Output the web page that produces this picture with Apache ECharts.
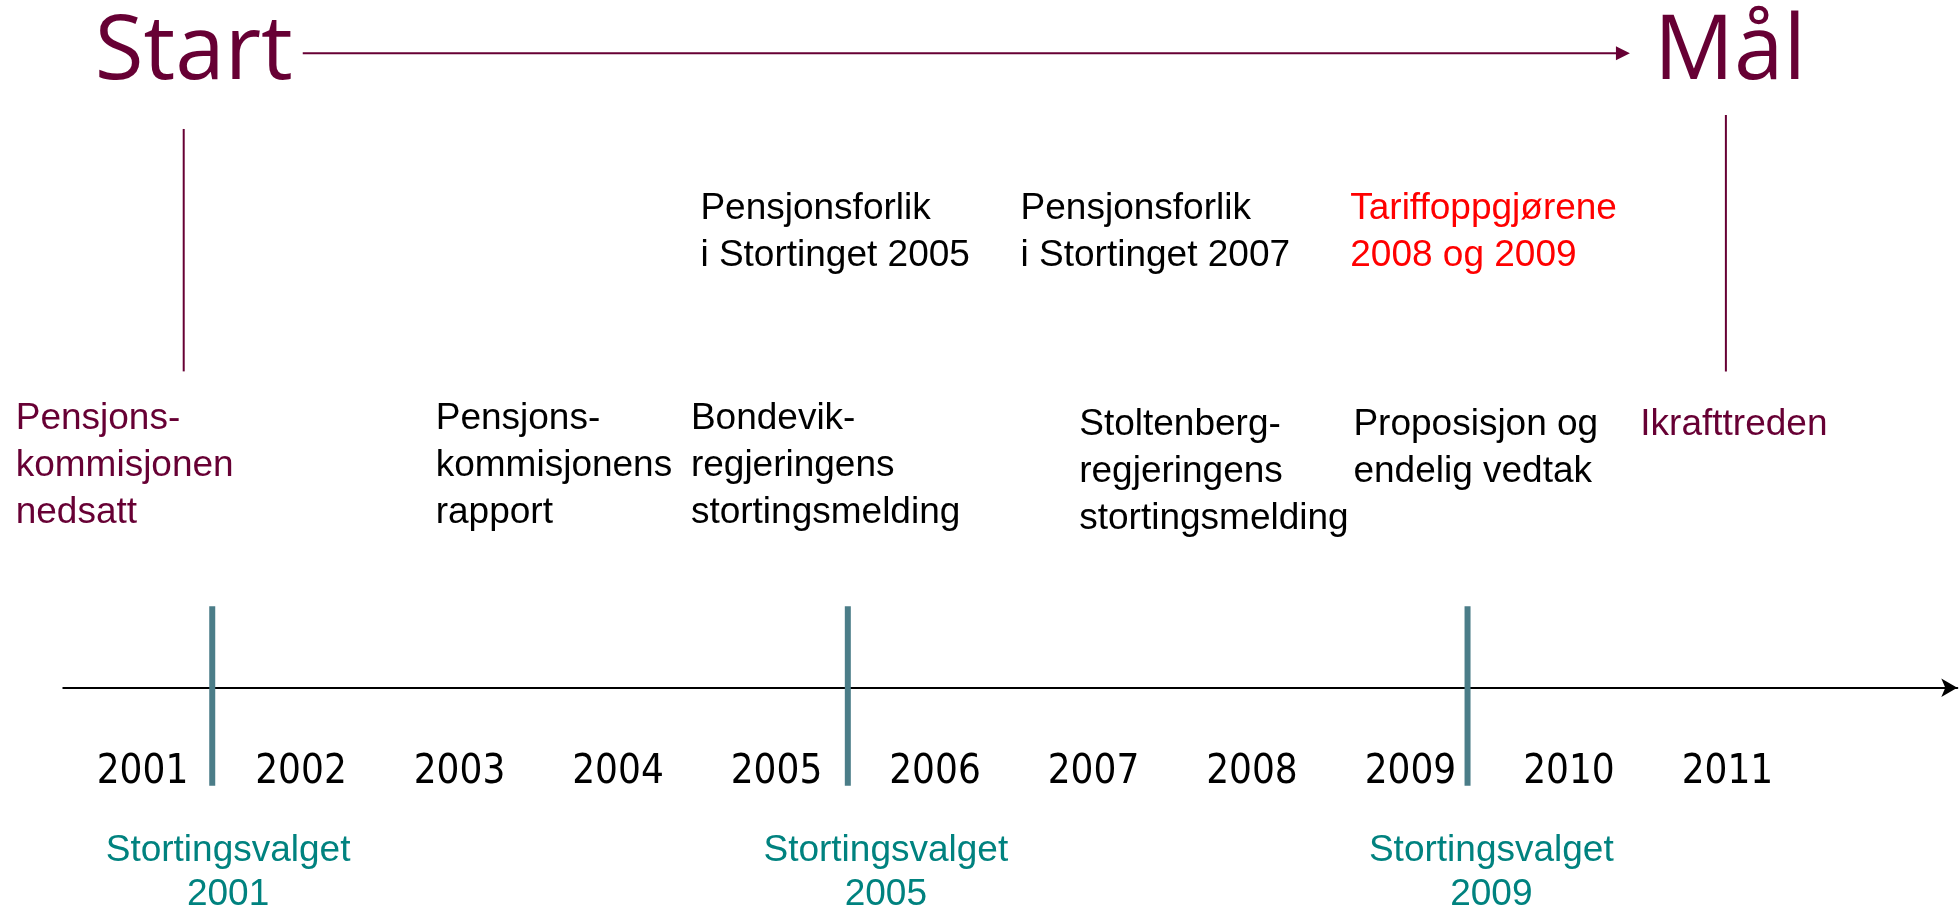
<!DOCTYPE html>
<html>
<head>
<meta charset="utf-8">
<title>Pensjonsreformen – tidslinje</title>
<script src="https://cdn.jsdelivr.net/npm/echarts@6/dist/echarts.min.js"></script>
<style>
  html, body { margin: 0; padding: 0; background: #fff; }
  #timeline { width: 1959px; height: 917px; }
</style>
</head>
<body>
<div id="timeline"></div>
<script>
// ---- data ----
const years = [2001, 2002, 2003, 2004, 2005, 2006, 2007, 2008, 2009, 2010, 2011];

const milestoneNames = ['Start', 'Mål'];
const milestoneYears = [2001.26, 2010.99];

const eventTexts = [
  'Pensjons-\nkommisjonen\nnedsatt',
  'Pensjons-\nkommisjonens\nrapport',
  'Bondevik-\nregjeringens\nstortingsmelding',
  'Pensjonsforlik\ni Stortinget 2005',
  'Pensjonsforlik\ni Stortinget 2007',
  'Tariffoppgjørene\n2008 og 2009',
  'Stoltenberg-\nregjeringens\nstortingsmelding',
  'Proposisjon og\nendelig vedtak',
  'Ikrafttreden'
];
const eventYears = [2000.20, 2002.85, 2004.46, 2004.52, 2006.54, 2008.62, 2006.91, 2008.64, 2010.45];
const eventTiers = ['low', 'low', 'low', 'high', 'high', 'high', 'lateLow', 'lateLow', 'lateLow'];
const eventKinds = ['milestone', 'plain', 'plain', 'plain', 'plain', 'wage', 'plain', 'plain', 'milestone'];

const electionNames = ['Stortingsvalget\n2001', 'Stortingsvalget\n2005', 'Stortingsvalget\n2009'];
const electionYears = [2001.44, 2005.45, 2009.36];
const electionLabelYears = [2001.54, 2005.69, 2009.51];

// ---- layout / style ----
const MAROON = '#670034';
const TEAL_TEXT = '#00827f';
const TEAL_BAR = '#4b7d88';
const KIND_COLOR = { milestone: MAROON, plain: '#000', wage: '#ff0000' };
const TIER_Y = { high: 54.8, low: 31.9, lateLow: 31.2 };   // top of text block, y units
const HEADER_Y = 69.2;
const MARKER_TOP = 61.7, MARKER_BOTTOM = 34.5;
const YEAR_Y = -9.3;
const BAR_TOP = 8.9, BAR_BOTTOM = -10.7;
const ELECTION_TEXT_Y = -15.4;
const ARIAL = '"Liberation Sans", Arial, sans-serif';
const HEAD_FONT = '89px "Open Sans", "Noto Sans", sans-serif';

function textWidth(str, font) {
  const ctx = document.createElement('canvas').getContext('2d');
  ctx.font = font;
  return ctx.measureText(str).width;
}

var chartDom = document.getElementById('timeline');
var myChart = echarts.init(chartDom, null, { renderer: 'canvas' });

var option = {
  animation: false,
  grid: { left: 63.25, right: 1.7, top: 0, bottom: 0, containLabel: false, outerBoundsMode: 'none' },
  xAxis: {
    type: 'value',
    min: 2000.5,
    max: 2012.45,
    axisLine: {
      show: true,
      onZero: true,
      symbol: ['none', 'arrow'],
      symbolSize: [14, 16],
      lineStyle: { color: '#000', width: 2 }
    },
    axisTick: { show: false },
    axisLabel: { show: false },
    splitLine: { show: false }
  },
  yAxis: { type: 'value', min: -25, max: 75, show: false },
  series: [
    // Start -> Mål header with arrow and marker lines
    {
      type: 'custom',
      name: 'header',
      data: [[milestoneYears[0], milestoneYears[1]]],
      encode: { x: [0, 1] },
      renderItem: function (params, api) {
        const a = api.coord([api.value(0), HEADER_Y]);
        const b = api.coord([api.value(1), HEADER_Y]);
        const aTop = api.coord([api.value(0), MARKER_TOP]);
        const aBot = api.coord([api.value(0), MARKER_BOTTOM]);
        const bTop = api.coord([api.value(1), MARKER_TOP]);
        const bBot = api.coord([api.value(1), MARKER_BOTTOM]);
        const wA = textWidth(milestoneNames[0], HEAD_FONT);
        const wB = textWidth(milestoneNames[1], HEAD_FONT);
        const cA = a[0] + 10, cB = b[0] + 4;
        const x1 = cA + wA / 2 + 10;
        const x2 = cB - wB / 2 - 24;
        const y = a[1];
        return {
          type: 'group',
          children: [
            { type: 'text', x: cA, y: y, style: { text: milestoneNames[0], fill: MAROON, font: HEAD_FONT, align: 'center', verticalAlign: 'middle' } },
            { type: 'text', x: cB, y: y, style: { text: milestoneNames[1], fill: MAROON, font: HEAD_FONT, align: 'center', verticalAlign: 'middle' } },
            { type: 'line', shape: { x1: x1, y1: y, x2: x2 - 12, y2: y }, style: { stroke: MAROON, lineWidth: 2 } },
            { type: 'polygon', shape: { points: [[x2 - 14, y - 7], [x2, y], [x2 - 14, y + 7]] }, style: { fill: MAROON } },
            { type: 'line', shape: { x1: aTop[0], y1: aTop[1] + 7, x2: aBot[0], y2: aBot[1] }, style: { stroke: MAROON, lineWidth: 2 } },
            { type: 'line', shape: { x1: bTop[0], y1: bTop[1] - 7, x2: bBot[0], y2: bBot[1] }, style: { stroke: MAROON, lineWidth: 2 } }
          ]
        };
      }
    },
    // events
    {
      type: 'custom',
      name: 'events',
      data: eventYears.map(function (v) { return [v]; }),
      encode: { x: 0 },
      renderItem: function (params, api) {
        const i = params.dataIndex;
        const p = api.coord([api.value(0), TIER_Y[eventTiers[i]]]);
        return {
          type: 'text', x: p[0], y: p[1],
          style: {
            text: eventTexts[i], fill: KIND_COLOR[eventKinds[i]],
            fontSize: 37, fontFamily: ARIAL, lineHeight: 47,
            align: 'left', verticalAlign: 'top'
          }
        };
      }
    },
    // year labels
    {
      type: 'custom',
      name: 'years',
      data: years.map(function (v) { return [v]; }),
      encode: { x: 0 },
      renderItem: function (params, api) {
        const p = api.coord([api.value(0), YEAR_Y]);
        return {
          type: 'text', x: p[0], y: p[1],
          style: {
            text: String(years[params.dataIndex]), fill: '#000',
            fontSize: 40, fontFamily: '"DejaVu Sans Condensed", "DejaVu Sans", sans-serif',
            align: 'center', verticalAlign: 'middle'
          }
        };
      }
    },
    // elections
    {
      type: 'custom',
      name: 'elections',
      data: electionYears.map(function (v, i) { return [v, electionLabelYears[i]]; }),
      encode: { x: [0, 1] },
      renderItem: function (params, api) {
        const top = api.coord([api.value(0), BAR_TOP]);
        const bot = api.coord([api.value(0), BAR_BOTTOM]);
        const t = api.coord([api.value(1), ELECTION_TEXT_Y]);
        return {
          type: 'group',
          children: [
            { type: 'rect', shape: { x: top[0] - 3, y: top[1], width: 6, height: bot[1] - top[1] }, style: { fill: TEAL_BAR } },
            {
              type: 'text', x: t[0], y: t[1],
              style: {
                text: electionNames[params.dataIndex], fill: TEAL_TEXT,
                fontSize: 37, fontFamily: ARIAL, lineHeight: 44,
                align: 'center', verticalAlign: 'top'
              }
            }
          ]
        };
      }
    }
  ]
};

option && myChart.setOption(option);
</script>
</body>
</html>
